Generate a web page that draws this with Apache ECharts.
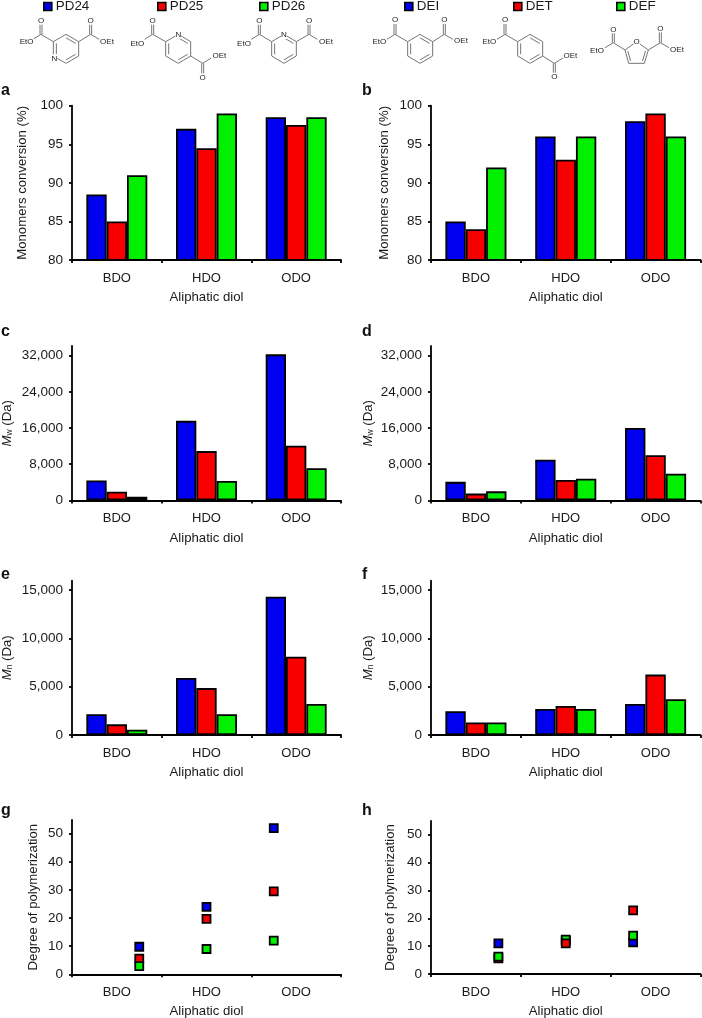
<!DOCTYPE html>
<html><head><meta charset="utf-8">
<style>html,body{margin:0;padding:0;background:#fff}#c{width:702px;height:1018px}</style>
<script src="https://cdn.jsdelivr.net/npm/echarts@6/dist/echarts.min.js"></script>
</head><body><div id="c"></div>
<script>
const diols = ['BDO','HDO','ODO'];
const xTitle = 'Aliphatic diol';
const leftNames = ['PD24','PD25','PD26'];
const rightNames = ['DEI','DET','DEF'];
const colors = ['#0000f0','#f80000','#00f000'];

// a
const aPD24 = [88.5,97,98.5];
const aPD25 = [85,94.5,97.5];
const aPD26 = [91,99,98.5];
// b
const bDEI = [85,96,98];
const bDET = [84,93,99];
const bDEF = [92,96,96];
// c
const cPD24 = [4400,17600,32300];
const cPD25 = [1900,10900,12100];
const cPD26 = [800,4300,7100];
// d
const dDEI = [4100,9000,16000];
const dDET = [1500,4500,10000];
const dDEF = [2000,4800,5900];
// e
const ePD24 = [2150,5900,14300];
const ePD25 = [1100,4850,8100];
const ePD26 = [550,2150,3200];
// f
const fDEI = [2450,2700,3200];
const fDET = [1300,3000,6250];
const fDEF = [1300,2700,3700];
// g
const gPD24 = [9.8,24,52];
const gPD25 = [5.6,19.7,29.5];
const gPD26 = [2.9,9,12];
// h
const hDEI = [11,12,11.4];
const hDET = [5.6,11,22.8];
const hDEF = [6.2,12.3,13.8];
const hOrder = [[0,1,2],[0,2,1],[0,1,2]];
const gOrder = [[1,0,2],[0,1,2],[0,1,2]];
// scatter points sit on a 0-4 scale, not on category centres
const scatterX = [1,2,3];

const yMono = [80,85,90,95,100];
const yMw = [0,8000,16000,24000,32000];
const yMn = [0,5000,10000,15000];
const yDp = [0,10,20,30,40,50];

const FONT = '"Liberation Sans", Arial, sans-serif';
const TXT = '#1a1a1a';
const L = {left:72,width:269}, R = {left:431,width:269.5};

const panels = [
 {k:'a',pos:L,top:105.7,h:154.3,min:80,max:100,ticks:yMono,name:'Monomers conversion (%)',gap:43,s:[aPD24,aPD25,aPD26],names:leftNames},
 {k:'b',pos:R,top:105.7,h:154.3,min:80,max:100,ticks:yMono,name:'Monomers conversion (%)',gap:40,s:[bDEI,bDET,bDEF],names:rightNames},
 {k:'c',pos:L,top:346,h:154.4,min:0,max:34150,ticks:yMw,name:'{i|M}{s|w}{n| (Da)}',gap:58,s:[cPD24,cPD25,cPD26],names:leftNames},
 {k:'d',pos:R,top:346,h:154.4,min:0,max:34150,ticks:yMw,name:'{i|M}{s|w}{n| (Da)}',gap:56,s:[dDEI,dDET,dDEF],names:rightNames},
 {k:'e',pos:L,top:580.7,h:154.3,min:0,max:15960,ticks:yMn,name:'{i|M}{s|n}{n| (Da)}',gap:58,s:[ePD24,ePD25,ePD26],names:leftNames},
 {k:'f',pos:R,top:580.7,h:154.3,min:0,max:15960,ticks:yMn,name:'{i|M}{s|n}{n| (Da)}',gap:56,s:[fDEI,fDET,fDEF],names:rightNames},
 {k:'g',pos:L,top:820,h:154.3,min:0,max:54.9,ticks:yDp,name:'Degree of polymerization',gap:32,s:[gPD24,gPD25,gPD26],names:leftNames,scatter:true,order:gOrder},
 {k:'h',pos:R,top:821,h:153,min:0,max:54.9,ticks:yDp,name:'Degree of polymerization',gap:34,s:[hDEI,hDET,hDEF],names:rightNames,scatter:true,order:hOrder}
];

const grid=[],xAxis=[],yAxis=[],series=[];
panels.forEach((p,i)=>{
  grid.push({left:p.pos.left,width:p.pos.width,top:p.top,height:p.h,containLabel:false,outerBoundsMode:'none'});
  xAxis.push({type:'category',gridIndex:i,data:diols,boundaryGap:true,
    name:xTitle,nameLocation:'middle',nameGap:31,
    nameTextStyle:{fontFamily:FONT,fontSize:13.2,color:TXT},
    axisLine:{onZero:false,lineStyle:{color:'#000',width:1.8}},
    axisTick:{show:true,length:3,lineStyle:{color:'#000',width:1.8}},
    axisLabel:{fontFamily:FONT,fontSize:13,color:TXT,margin:12,interval:0},
    splitLine:{show:false}});
  yAxis.push({type:'value',gridIndex:i,min:p.min,max:p.max,
    name:p.name,nameLocation:'middle',nameGap:p.gap,nameRotate:90,
    nameTextStyle:{fontFamily:FONT,fontSize:13.2,color:TXT,
      rich:{i:{fontFamily:FONT,fontSize:13.2,fontStyle:'italic',color:TXT},
            s:{fontFamily:FONT,fontSize:8.5,color:TXT,padding:[5,0,0,0]},
            n:{fontFamily:FONT,fontSize:13.2,color:TXT}}},
    axisLine:{show:true,onZero:false,lineStyle:{color:'#000',width:1.8}},
    axisTick:{show:true,length:3,customValues:p.ticks,lineStyle:{color:'#000',width:1.8}},
    axisLabel:{fontFamily:FONT,fontSize:13.5,color:TXT,margin:9,customValues:p.ticks,
      formatter:v=>Number(v).toLocaleString('en-US')},
    splitLine:{show:false}});
});
// hidden numeric x scales for the two scatter panels
const scatterAxisIndex = {};
panels.forEach((p,i)=>{ if(p.scatter){
  scatterAxisIndex[i]=xAxis.length;
  xAxis.push({type:'value',gridIndex:i,min:0,max:4,show:false});
}});
panels.forEach((p,i)=>{
  if(!p.scatter){
    p.s.forEach((vals,j)=>series.push({type:'bar',name:p.names[j],xAxisIndex:i,yAxisIndex:i,data:vals,
      barGap:0,barCategoryGap:'32%',animation:false,
      itemStyle:{color:colors[j],borderColor:'#000',borderWidth:1.8}}));
  } else {
    p.order.forEach((ord,c)=>ord.forEach((j,rank)=>series.push({type:'scatter',name:p.names[j],
      xAxisIndex:scatterAxisIndex[i],yAxisIndex:i,data:[[scatterX[c],p.s[j][c]]],
      symbol:'rect',symbolSize:8,animation:false,z:2+rank,
      itemStyle:{color:colors[j],borderColor:'#000',borderWidth:1.8,opacity:1}})));
  }
});

// legends
const legendSpots = [['PD24',43],['PD25',157],['PD26',259],['DEI',404],['DET',513],['DEF',616]];
const legend = legendSpots.map(([n,x])=>({data:[n],left:x,top:0,padding:0,itemWidth:8,itemHeight:8,itemGap:0,
  selectedMode:false,icon:'rect',textStyle:{fontFamily:FONT,fontSize:13.4,color:TXT,padding:[0,0,0,-1]},
  itemStyle:{borderColor:'#000',borderWidth:1.6}}));

// panel letters
const letters = [['a',1,91],['b',362,91],['c',1,332],['d',362,332],['e',1,575],['f',362,575],['g',1,811],['h',362,811]];
const graphic = letters.map(([t,x,y])=>({type:'text',x,y,style:{text:t,fill:'#111',font:'bold 16px '+FONT,verticalAlign:'middle'}}));

// molecule line drawings (decoration, in 3x-crop units)
const GR='#666';
function seg(ox,x1,y1,x2,y2){graphic.push({type:'line',z:5,shape:{x1:ox+x1/3,y1:y1/3,x2:ox+x2/3,y2:y2/3},style:{stroke:GR,lineWidth:0.9}});}
function lab(ox,t,x,y){graphic.push({type:'text',z:6,x:ox+x/3,y:y/3,style:{text:t,fill:'#222',font:'8px '+FONT,align:'center',verticalAlign:'middle',backgroundColor:'#fff'}});}
function ring(ox,pts,dbl){
  const n=pts.length,cx=pts.reduce((a,p)=>a+p[0],0)/n,cy=pts.reduce((a,p)=>a+p[1],0)/n;
  pts.forEach((p,i)=>{const q=pts[(i+1)%n];seg(ox,p[0],p[1],q[0],q[1]);
    if(dbl.includes(i)){const f=.76,a=[cx+(p[0]-cx)*f,cy+(p[1]-cy)*f],b=[cx+(q[0]-cx)*f,cy+(q[1]-cy)*f];seg(ox,a[0],a[1],b[0],b[1]);}
  });
}
function ester(ox,ax,ay,cx,cy,oy,ex,ey,t,lx,ly){
  seg(ox,ax,ay,cx,cy);
  const s=oy<cy?-1:1;
  seg(ox,cx-3,cy,cx-3,oy-s*8);seg(ox,cx+3,cy,cx+3,oy-s*8);
  lab(ox,'O',cx,oy);
  seg(ox,cx,cy,ex,ey);
  lab(ox,t,lx,ly);
}
ring(0,[[198,103],[236,125],[236,168],[198,190],[160,168],[160,125]],[0,2,4]);lab(0,'N',163,175);
ester(0,160,125,123,103,62,98,118,'EtO',80,125);ester(0,236,125,272,103,62,298,118,'OEt',321,125);
ring(0,[[535,103],[572,125],[572,168],[535,190],[497,168],[497,125]],[0,2,4]);lab(0,'N',535,104);
ester(0,497,125,458,103,62,434,118,'EtO',412,130);ester(0,572,168,608,190,232,634,174,'OEt',658,168);
ring(0,[[852,103],[889,125],[889,168],[852,190],[815,168],[815,125]],[0,2,4]);lab(0,'N',852,105);
ester(0,815,125,778,103,62,754,118,'EtO',732,130);ester(0,889,125,927,103,62,952,118,'OEt',978,125);
ring(351,[[207,103],[245,125],[245,168],[207,190],[170,168],[170,125]],[0,2,4]);
ester(351,170,125,132,103,60,108,118,'EtO',85,125);ester(351,245,125,280,103,60,306,118,'OEt',330,123);
ring(351,[[537,103],[575,125],[575,168],[537,190],[500,168],[500,125]],[0,2,4]);
ester(351,500,125,462,103,60,438,118,'EtO',415,125);ester(351,575,168,610,190,230,636,174,'OEt',658,168);
ring(351,[[857,125],[892,150],[880,190],[833,190],[822,150]],[1,3]);lab(351,'O',857,125);
ester(351,822,150,787,128,88,762,143,'EtO',738,152);ester(351,892,150,928,128,85,954,143,'OEt',978,150);

const chart = echarts.init(document.getElementById('c'),null,{renderer:'canvas'});
chart.setOption({animation:false,backgroundColor:'#fff',tooltip:{show:false},grid,xAxis,yAxis,series,legend,graphic});
</script></body></html>
